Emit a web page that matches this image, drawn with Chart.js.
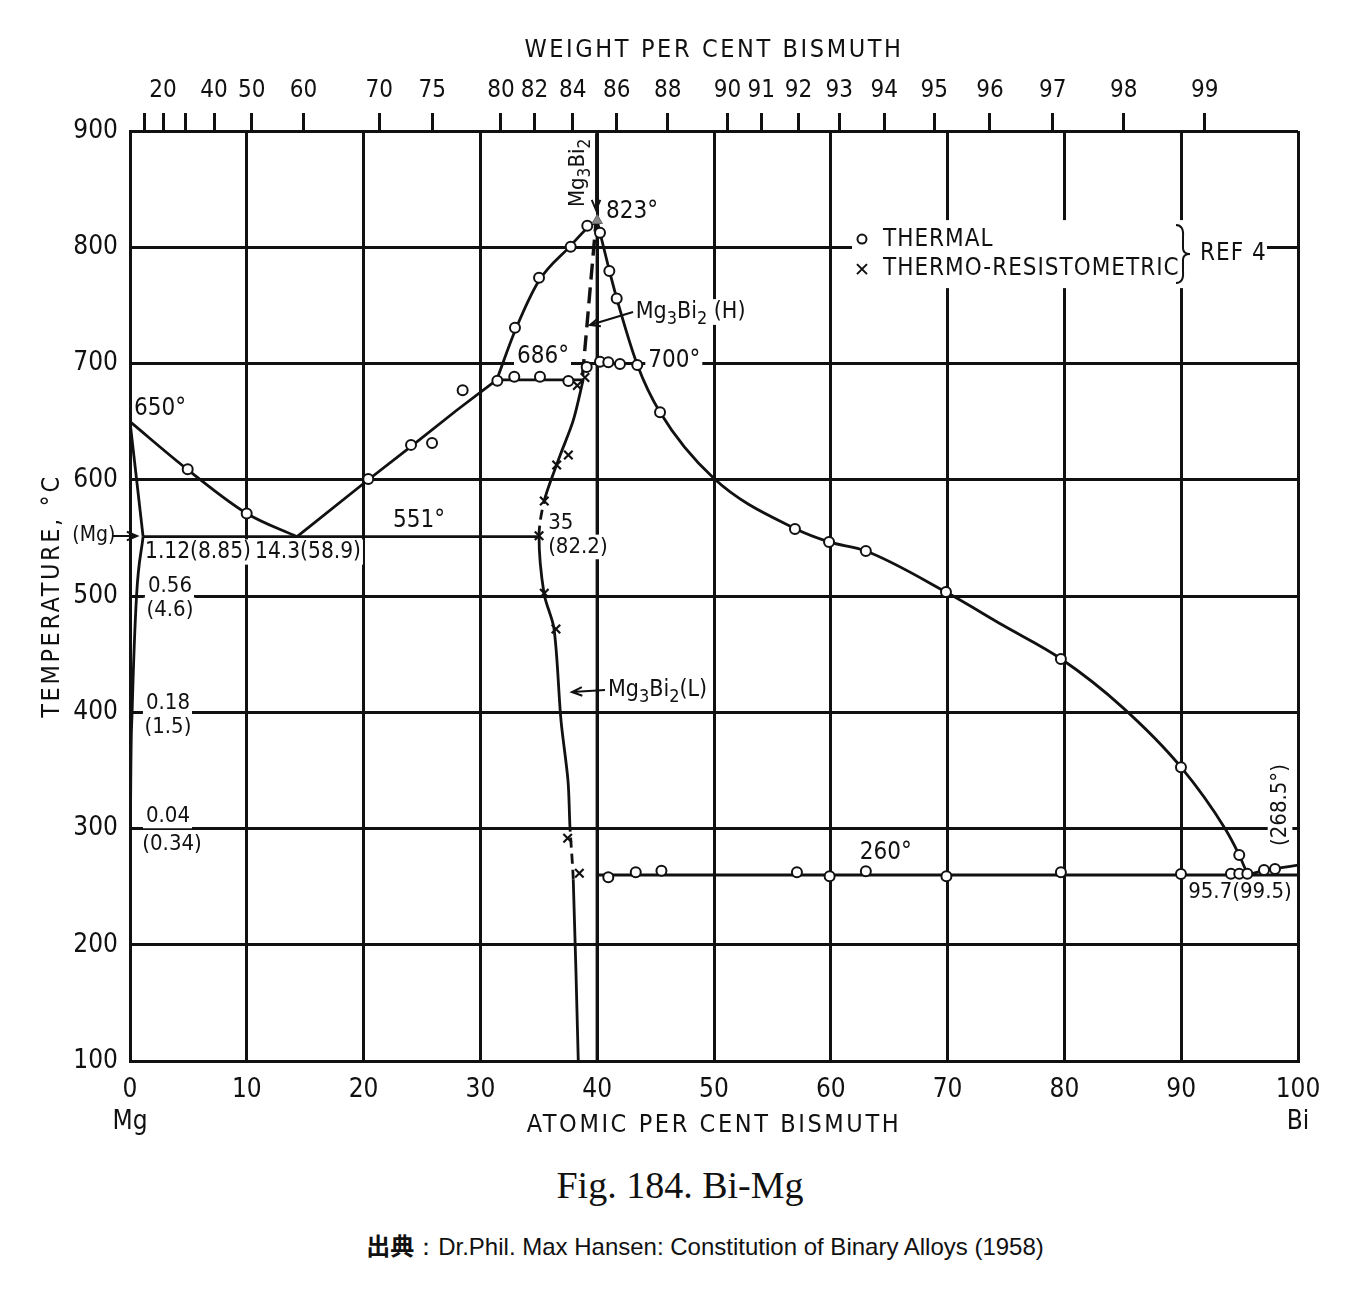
<!DOCTYPE html>
<html>
<head>
<meta charset="utf-8">
<script src="https://cdn.jsdelivr.net/npm/chart.js@4.4.1/dist/chart.umd.min.js"></script>
<style>
  body { margin: 0; background: #fff; width: 1352px; height: 1292px; position: relative; overflow: hidden; }
  #chart { position: absolute; left: 0; top: 0; }
  .fig { position: absolute; left: 0; width: 1360px; top: 1166px; text-align: center;
         font: 38px/38px "Liberation Serif", serif; color: #111; }
  .src { position: absolute; left: 0; width: 1410px; top: 1233px; text-align: center;
         font: 24px/24px "Liberation Sans", Arial, sans-serif; color: #111; }
  .src b { font-family: "Noto Sans CJK JP", sans-serif; }
</style>
</head>
<body>
<canvas id="chart" width="1352" height="1150"></canvas>
<div class="fig">Fig. 184. Bi-Mg</div>
<div class="src"><b>出典</b>：Dr.Phil. Max Hansen: Constitution of Binary Alloys (1958)</div>
<script>
// all points are [atomic % Bi, temperature °C]
const liquidusMg   = [[0, 650], [4.9, 609], [10, 571], [14.3, 551]];
const liquidusLow  = [[14.3, 551], [20.4, 600], [24.1, 629], [28, 660], [31.4, 686]];
const liquidusHigh = [[31.4, 686], [33, 729], [35, 771], [37.7, 801], [39.2, 817], [40, 823]];
const liquidusBi   = [[40, 823], [40.24, 812.5], [41.04, 780], [41.67, 756], [43.43, 699], [45.38, 658],
                      [50, 601], [56.93, 558], [59.85, 546.5], [63, 538.7], [69.86, 503.4], [74.7, 475],
                      [79.7, 446], [85, 404], [90, 352.6], [93.75, 300], [94.97, 277], [95.7, 260]];
const liquidusEnd  = [[95.7, 260], [97.1, 264], [98, 265.5], [100, 268.5]];
const solidusMg    = [[0, 650], [1.12, 551]];
const solvusMg     = [[0, 100], [0.04, 300], [0.18, 400], [0.56, 500], [1.12, 551]];
const eutectic551  = [[1.12, 551], [35, 551]];
const peritectic686 = [[31.4, 686], [38.8, 686]];
const trans700     = [[40, 700], [43.43, 700]];
const eutectic260  = [[40, 260], [100, 260]];
const compound     = [[40, 100], [40, 823]];
const boundaryH    = [[38.75, 690], [39.9, 822]];
const boundaryL    = [[38.38, 100], [37.95, 256], [37.67, 301], [37.5, 341], [36.9, 393], [36.3, 472],
                      [35.45, 502], [35.02, 552], [35.47, 582], [36.53, 613], [36.9, 623], [37.95, 651], [38.8, 686]];

const thermal = [[4.94, 609], [9.99, 571], [20.4, 600.6], [24.06, 630], [25.86, 631.6], [28.48, 677],
                 [31.45, 685.2], [32.9, 688.6], [35.1, 688.6], [37.53, 684.9], [32.96, 730.8], [35.02, 773.8],
                 [37.73, 800.5], [39.15, 818.5], [39.1, 697], [40.24, 812.5], [41.04, 779.6], [41.67, 756],
                 [40.24, 701.6], [40.95, 701], [41.95, 699.6], [43.43, 698.7], [45.38, 658],
                 [56.93, 557.6], [59.85, 546.5], [63.0, 538.7], [69.86, 503.4], [79.7, 445.8],
                 [89.98, 352.6], [94.97, 277.2],
                 [40.95, 258], [43.3, 262.3], [45.5, 263.7], [57.1, 262.3], [59.9, 259], [63.0, 263.3],
                 [69.9, 259], [79.7, 262.3], [89.98, 260.9], [94.26, 261], [94.97, 261], [95.66, 261],
                 [97.09, 264.3], [98.03, 265.2]];
const resisto = [[37.53, 621.3], [36.53, 612.7], [35.47, 581.7], [35.02, 551.9], [35.47, 502.3],
                 [36.47, 471.6], [37.47, 291.6], [38.47, 261.5], [38.3, 681], [38.95, 688]];
const peakPoint = [[40, 823]];

// top axis: weight per cent Bi
const wtTicks = [10, 20, 30, 40, 50, 60, 70, 75, 80, 82, 84, 86, 88, 90, 91, 92, 93, 94, 95, 96, 97, 98, 99];
const wtBlank = [10, 30];
const M_BI = 208.98, M_MG = 24.31;
function atFromWt(w) {
  const b = w / M_BI, m = (100 - w) / M_MG;
  return 100 * b / (b + m);
}

const ink = '#111';
const FONT = '"DejaVu Sans Condensed", "Liberation Sans", sans-serif';

const MG3BI2 = [['Mg', 0], ['3', 1], ['Bi', 0], ['2', 1]];

// text notes, placed in data coordinates
const notes = [
  { t: '650°', x: 2.57, y: 661, size: 24 },
  { t: '1.12(8.85)', x: 5.82, y: 537.8, bg: true, size: 22.5 },
  { t: '14.3(58.9)', x: 15.24, y: 537.8, bg: true, size: 22.5 },
  { t: '551°', x: 24.74, y: 564.5, size: 24 },
  { t: '0.56', x: 3.42, y: 508.6, bg: true },
  { t: '(4.6)', x: 3.42, y: 488, bg: true },
  { t: '0.18', x: 3.25, y: 407.9, bg: true },
  { t: '(1.5)', x: 3.25, y: 387.2, bg: true },
  { t: '0.04', x: 3.25, y: 310.8, bg: true },
  { t: '(0.34)', x: 3.6, y: 286.7, bg: true },
  { t: '35', x: 35.8, y: 562.8, align: 'left', bg: true, top: true },
  { t: '(82.2)', x: 35.8, y: 542.2, align: 'left', bg: true, top: true },
  { t: '686°', x: 35.36, y: 705.6, bg: true, size: 24 },
  { t: '700°', x: 46.6, y: 702.2, bg: true, size: 24 },
  { t: '823°', x: 42.98, y: 830.3, size: 24 },
  { t: MG3BI2, x: 38.36, y: 864, rot: -90 },
  { t: MG3BI2.concat([[' (H)', 0]]), x: 43.3, y: 744.3, align: 'left', bg: true, size: 23 },
  { t: MG3BI2.concat([['(L)', 0]]), x: 40.92, y: 419.1, align: 'left', bg: true, size: 23 },
  { t: '260°', x: 64.7, y: 278.9, size: 24 },
  { t: '95.7(99.5)', x: 95.03, y: 245.4 },
  { t: '(268.5°)', x: 98.46, y: 320.2, rot: -90, bg: true },
  { t: '(Mg)', x: -3.1, y: 551.6, size: 21 }
];
const arrows = [
  [-1.46, 551.6, 0.6, 551.6],
  [39.9, 898, 39.9, 832],
  [43.07, 744.3, 39.38, 733.1],
  [40.67, 419.1, 37.84, 417.4]
];

function pt(arr) { return arr.map(p => ({ x: p[0], y: p[1] })); }

function curve(arr, opt) {
  return Object.assign({
    data: pt(arr), showLine: true, pointRadius: 0, borderColor: ink, borderWidth: 2.8,
    cubicInterpolationMode: 'monotone', fill: false
  }, opt || {});
}
function straight(arr, opt) {
  return curve(arr, Object.assign({ cubicInterpolationMode: 'default', tension: 0 }, opt || {}));
}

function fontFor(n, sub) {
  const size = n.size || 22;
  return (n.bold ? 'bold ' : '') + (sub ? size * 0.78 : size) + 'px ' + FONT;
}

function drawNote(ctx, n, X, Y) {
  const size = n.size || 22;
  const parts = typeof n.t === 'string' ? [[n.t, 0]] : n.t;
  ctx.save();
  ctx.translate(X, Y);
  if (n.rot) ctx.rotate(n.rot * Math.PI / 180);
  ctx.letterSpacing = '0px';
  let w = 0;
  parts.forEach(([s, sub]) => { ctx.font = fontFor(n, sub); w += ctx.measureText(s).width; });
  let x0 = n.align === 'left' ? 0 : -w / 2;
  if (n.bg) {
    ctx.fillStyle = '#fff';
    ctx.fillRect(x0 - 3, -size * 0.56, w + 5, size * 1.12);
  }
  ctx.fillStyle = ink;
  ctx.textAlign = 'left';
  ctx.textBaseline = 'middle';
  parts.forEach(([s, sub]) => {
    ctx.font = fontFor(n, sub);
    ctx.fillText(s, x0, sub ? size * 0.32 : 0);
    x0 += ctx.measureText(s).width;
  });
  ctx.restore();
}

function drawArrow(ctx, x1, y1, x2, y2) {
  const a = Math.atan2(y2 - y1, x2 - x1), h = 11, s = 0.4;
  ctx.beginPath();
  ctx.moveTo(x1, y1);
  ctx.lineTo(x2, y2);
  ctx.moveTo(x2 - h * Math.cos(a - s), y2 - h * Math.sin(a - s));
  ctx.lineTo(x2, y2);
  ctx.lineTo(x2 - h * Math.cos(a + s), y2 - h * Math.sin(a + s));
  ctx.stroke();
}

const annotate = {
  id: 'annotate',
  // labels and legend sit over the grid but under the phase lines
  beforeDatasetsDraw(chart) {
    const ctx = chart.ctx, sx = chart.scales.x, sy = chart.scales.y;
    const X = v => sx.getPixelForValue(v), Y = v => sy.getPixelForValue(v);
    ctx.save();
    notes.filter(n => !n.top).forEach(n => drawNote(ctx, n, X(n.x), Y(n.y)));

    // legend
    const lx = X(62.67), ly = Y(807);
    ctx.fillStyle = '#fff';
    ctx.fillRect(lx - 10, ly - 19, 415, 68);
    ctx.fillStyle = ink;
    ctx.strokeStyle = ink;
    ctx.lineWidth = 2;
    ctx.beginPath();
    ctx.arc(lx, ly, 4.5, 0, Math.PI * 2);
    ctx.stroke();
    ctx.beginPath();
    ctx.moveTo(lx - 5, ly + 25); ctx.lineTo(lx + 5, ly + 35);
    ctx.moveTo(lx + 5, ly + 25); ctx.lineTo(lx - 5, ly + 35);
    ctx.stroke();
    ctx.font = '24px ' + FONT;
    ctx.letterSpacing = '1px';
    ctx.textAlign = 'left';
    ctx.textBaseline = 'middle';
    ctx.fillText('THERMAL', lx + 21, ly + 1);
    ctx.fillText('THERMO-RESISTOMETRIC', lx + 21, ly + 30);
    ctx.fillText('REF 4', lx + 338, ly + 15);
    // brace
    const bx = lx + 320, top = ly - 14, bot = ly + 44, mid = ly + 15;
    ctx.beginPath();
    ctx.moveTo(bx - 6, top);
    ctx.quadraticCurveTo(bx + 2, top, bx + 1, top + 12);
    ctx.lineTo(bx + 1, mid - 6);
    ctx.quadraticCurveTo(bx + 1, mid, bx + 8, mid);
    ctx.quadraticCurveTo(bx + 1, mid, bx + 1, mid + 6);
    ctx.lineTo(bx + 1, bot - 12);
    ctx.quadraticCurveTo(bx + 2, bot, bx - 6, bot);
    ctx.stroke();
    ctx.restore();
  },
  afterDatasetsDraw(chart) {
    const ctx = chart.ctx, sx = chart.scales.x, sy = chart.scales.y;
    const X = v => sx.getPixelForValue(v), Y = v => sy.getPixelForValue(v);
    ctx.save();
    ctx.strokeStyle = ink;
    ctx.lineWidth = 2;
    arrows.forEach(a => drawArrow(ctx, X(a[0]), Y(a[1]), X(a[2]), Y(a[3])));
    notes.filter(n => n.top).forEach(n => drawNote(ctx, n, X(n.x), Y(n.y)));
    ctx.restore();
  },
  afterDraw(chart) {
    const ctx = chart.ctx, a = chart.chartArea;
    const cx = (a.left + a.right) / 2;
    ctx.save();
    ctx.fillStyle = ink;
    ctx.font = '25px ' + FONT;
    ctx.letterSpacing = '2.6px';
    ctx.textAlign = 'center';
    ctx.textBaseline = 'middle';
    ctx.fillText('WEIGHT PER CENT BISMUTH', cx, 50);
    ctx.fillText('ATOMIC PER CENT BISMUTH', cx, 1125);
    ctx.translate(52, (a.top + a.bottom) / 2);
    ctx.rotate(-Math.PI / 2);
    ctx.fillText('TEMPERATURE, °C', 0, 0);
    ctx.restore();
  }
};

const tickFont = { family: FONT, size: 26 };
const gridStyle = { color: ink, lineWidth: 3, drawTicks: false };

new Chart(document.getElementById('chart'), {
  type: 'scatter',
  data: {
    datasets: [
      { data: pt(peakPoint), pointStyle: 'triangle', pointRadius: 6, backgroundColor: '#888', borderColor: '#666', borderWidth: 1 },
      { data: pt(thermal), pointStyle: 'circle', pointRadius: 5, backgroundColor: '#fff', borderColor: ink, borderWidth: 2 },
      { data: pt(resisto), pointStyle: 'crossRot', pointRadius: 6, borderColor: ink, borderWidth: 2.2 },
      curve(liquidusMg),
      straight(liquidusLow),
      curve(liquidusHigh),
      curve(liquidusBi),
      curve(liquidusEnd),
      straight(solidusMg),
      curve(solvusMg),
      straight(eutectic551),
      straight(peritectic686),
      straight(trans700),
      straight(eutectic260),
      straight(compound, { borderWidth: 3.2 }),
      straight(boundaryH, { borderDash: [16, 8], borderWidth: 3.4 }),
      curve(boundaryL, {
        cubicInterpolationMode: 'default', tension: 0.3,
        segment: { borderDash: c => (c.p0DataIndex === 1 || c.p0DataIndex === 7) ? [10, 6] : undefined }
      })
    ]
  },
  options: {
    responsive: false,
    devicePixelRatio: 1,
    animation: false,
    layout: { padding: { left: 0, right: 54, top: 0, bottom: 0 } },
    plugins: { legend: { display: false }, tooltip: { enabled: false } },
    scales: {
      x: {
        type: 'linear', position: 'bottom', min: 0, max: 100,
        ticks: {
          stepSize: 10, padding: 14, color: ink, font: tickFont, maxRotation: 0,
          callback: v => v === 0 ? ['0', 'Mg'] : v === 100 ? ['100', 'Bi'] : String(v)
        },
        grid: gridStyle,
        border: { color: ink, width: 3 },
        afterFit: ax => { ax.height = 89; }
      },
      y: {
        type: 'linear', position: 'left', min: 100, max: 900,
        ticks: { stepSize: 100, padding: 12, color: ink, font: tickFont },
        grid: gridStyle,
        border: { color: ink, width: 3 },
        afterFit: ax => { ax.width = 130; }
      },
      wt: {
        type: 'linear', position: 'top', min: 0, max: 100,
        afterBuildTicks: ax => { ax.ticks = wtTicks.map(w => ({ value: atFromWt(w) })); },
        ticks: {
          autoSkip: false, maxRotation: 0, padding: 8, color: ink, font: { family: FONT, size: 24 },
          callback: (v, i) => wtBlank.includes(wtTicks[i]) ? '' : String(wtTicks[i])
        },
        grid: { drawOnChartArea: false, tickLength: 18, lineWidth: 3, color: ink },
        border: { display: false },
        afterFit: ax => { ax.height = 131; }
      }
    }
  },
  plugins: [annotate]
});
</script>
</body>
</html>
